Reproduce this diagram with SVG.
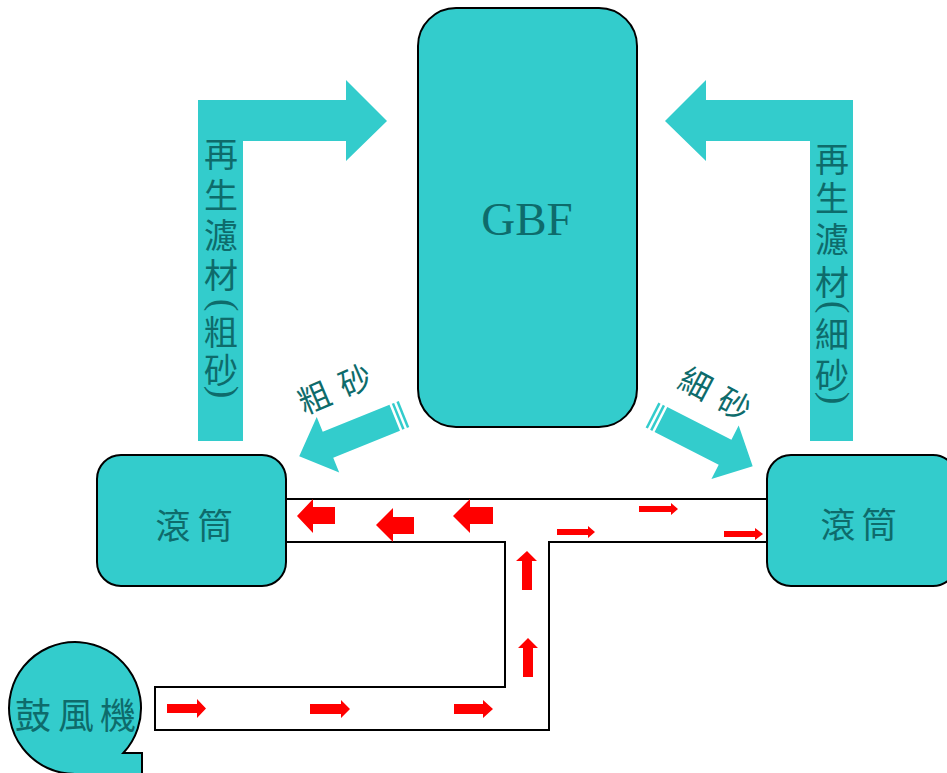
<svg xmlns="http://www.w3.org/2000/svg" width="947" height="773" viewBox="0 0 947 773">
  <style>
    .box { fill: #33CCCC; stroke: #000; stroke-width: 2; }
    .flow { fill: #33CCCC; stroke: none; }
    .cjk { font-family: "Noto Sans CJK TC", "Noto Sans CJK SC", sans-serif; fill: #0e6b6b; text-anchor: middle; dominant-baseline: central; }
    .paren { font-family: "Liberation Serif", serif; font-size: 38px; fill: #0e6b6b; text-anchor: middle; }
    .duct { fill: none; stroke: #000; stroke-width: 2; }
    .air { fill: #FF0000; stroke: none; }
  </style>
  <rect width="947" height="773" fill="#ffffff"/>

  <!-- Return paths for regenerated media -->
  <g id="return-coarse">
    <path class="flow" d="M198,441 V100 H346 V80 L387,121 L346,161 V141 H243 V441 Z"/>
    <g class="cjk" font-size="34">
      <text x="221" y="152">再</text>
      <text x="221" y="193">生</text>
      <text x="221" y="233">濾</text>
      <text x="221" y="273">材</text>
      <text x="221" y="330">粗</text>
      <text x="221" y="368">砂</text>
    </g>
    <!-- vertical-style brackets: parentheses turned a quarter turn -->
    <text class="paren" x="0" y="9.5" transform="translate(221,305) rotate(90)">(</text>
    <text class="paren" x="0" y="9.5" transform="translate(221,392) rotate(90)">)</text>
  </g>
  <g id="return-fine">
    <path class="flow" d="M853,441 V100 H706 V80 L665,121 L706,161 V141 H810 V441 Z"/>
    <g class="cjk" font-size="34">
      <text x="832" y="157">再</text>
      <text x="832" y="196">生</text>
      <text x="832" y="237">濾</text>
      <text x="832" y="280">材</text>
      <text x="832" y="332">細</text>
      <text x="832" y="373">砂</text>
    </g>
    <text class="paren" x="0" y="9.5" transform="translate(832,307) rotate(90)">(</text>
    <text class="paren" x="0" y="9.5" transform="translate(832,398) rotate(90)">)</text>
  </g>

  <!-- GBF unit -->
  <g id="gbf">
    <rect class="box" x="418" y="8" width="219" height="419" rx="38" ry="38"/>
    <text x="527" y="235" font-family="Liberation Serif, serif" font-size="47" fill="#0e6b6b" text-anchor="middle">GBF</text>
  </g>

  <!-- Sand discharge arrows -->
  <g id="coarse-sand">
    <g transform="translate(404,414) rotate(158)">
      <rect class="flow" x="0" y="-14" width="2.5" height="28"/>
      <rect class="flow" x="5" y="-14" width="2.5" height="28"/>
      <path class="flow" d="M10,-14 H82 V-30 L113,0 L82,30 V14 H10 Z"/>
    </g>
    <g class="cjk" font-size="32" transform="translate(334,387) rotate(-23)">
      <text x="-22" y="0">粗</text>
      <text x="22" y="0">砂</text>
    </g>
  </g>
  <g id="fine-sand">
    <g transform="translate(652,415) rotate(27)">
      <rect class="flow" x="0" y="-14" width="2.5" height="28"/>
      <rect class="flow" x="5" y="-14" width="2.5" height="28"/>
      <path class="flow" d="M10,-14 H82 V-30 L113,0 L82,30 V14 H10 Z"/>
    </g>
    <g class="cjk" font-size="32" transform="translate(716,392) rotate(28)">
      <text x="-22" y="0">細</text>
      <text x="22" y="0">砂</text>
    </g>
  </g>

  <!-- Drums -->
  <g id="drum-left">
    <rect class="box" x="97" y="455" width="189" height="131" rx="24" ry="24"/>
    <g class="cjk" font-size="35">
      <text x="173" y="523">滾</text>
      <text x="215" y="523">筒</text>
    </g>
  </g>
  <g id="drum-right">
    <rect class="box" x="767" y="455" width="190" height="131" rx="24" ry="24"/>
    <g class="cjk" font-size="35">
      <text x="838" y="522">滾</text>
      <text x="879" y="522">筒</text>
    </g>
  </g>

  <!-- Blower -->
  <g id="blower">
    <path class="box" d="M142,774 H75 A66,66 0 1 1 123.3,753 H142 Z"/>
    <g class="cjk" font-size="36">
      <text x="33" y="713">鼓</text>
      <text x="76" y="713">風</text>
      <text x="118" y="713">機</text>
    </g>
  </g>

  <!-- Air ducts and flow direction -->
  <g id="connectors">
    <path class="duct" d="M286,499 H767"/>
    <path class="duct" d="M286,542 H505 V687 H155 V730 H549 V542 H767"/>

    <path class="air" d="M297,516 L313,499 V507 H335 V524 H313 V533 Z"/>
    <path class="air" d="M376,525 L393,508 V517 H414 V534 H393 V542 Z"/>
    <path class="air" d="M453,516 L470,499 V507 H493 V524 H470 V533 Z"/>

    <path class="air" d="M527,551 L537,561 H532 V590 H522 V561 H516 Z"/>
    <path class="air" d="M528,638 L538,648 H533 V677 H523 V648 H518 Z"/>

    <path class="air" d="M167,704 H197 V699 L206,708.5 L197,718 V713 H167 Z"/>
    <path class="air" d="M310,704 H341 V700 L350,709 L341,718 V714 H310 Z"/>
    <path class="air" d="M454,704 H483 V700 L493,709 L483,718 V714 H454 Z"/>

    <path class="air" d="M557,529 H588 V526 L595,532 L588,538 V535 H557 Z"/>
    <path class="air" d="M639,506 H671 V503 L678,509 L671,515 V512 H639 Z"/>
    <path class="air" d="M724,531 H755 V528 L763,534 L755,540 V537 H724 Z"/>
  </g>
</svg>
